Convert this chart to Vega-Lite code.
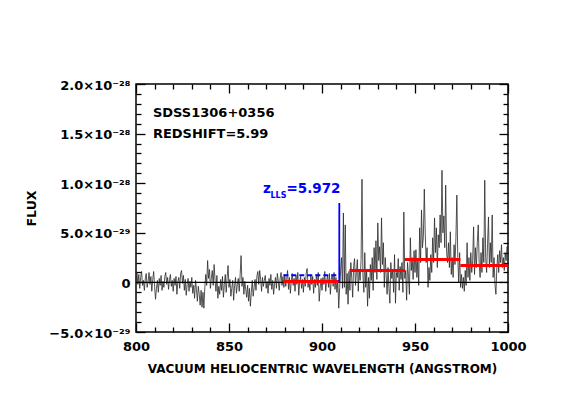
{
  "$schema": "https://vega.github.io/schema/vega-lite/v6.json",
  "width": 372,
  "height": 248,
  "autosize": {"type": "none"},
  "padding": {"left": 136, "top": 84, "right": 56, "bottom": 83},
  "background": "white",
  "config": {
    "view": {"stroke": "black", "strokeWidth": 1.5},
    "font": "DejaVu Sans",
    "axis": {
      "grid": false,
      "domain": false,
      "tickColor": "black",
      "tickWidth": 1.3,
      "labelColor": "black",
      "labelFont": "DejaVu Sans",
      "labelFontWeight": "bold",
      "labelFontSize": 13,
      "labelFlush": false,
      "labelOverlap": false,
      "labelBound": false,
      "titleColor": "black",
      "titleFont": "DejaVu Sans",
      "titleFontWeight": "bold"
    }
  },
  "layer": [
    {
      "data": {"values": [
        {"w":800,"f":0.3},{"w":800.5,"f":1.0},{"w":801,"f":-0.2},{"w":801.5,"f":0.8},{"w":802,"f":-0.6},{"w":802.5,"f":0.5},{"w":803,"f":1.1},{"w":803.5,"f":-0.3},{"w":804,"f":0.2},{"w":804.5,"f":-0.8},
        {"w":805,"f":0.4},{"w":805.5,"f":0.9},{"w":806,"f":-0.5},{"w":806.5,"f":0.1},{"w":807,"f":1.0},{"w":807.5,"f":-0.2},{"w":808,"f":0.6},{"w":808.5,"f":-0.9},{"w":809,"f":0.3},{"w":809.5,"f":1.1},
        {"w":810,"f":-0.4},{"w":810.5,"f":-1.7},{"w":811,"f":-0.6},{"w":811.5,"f":0.2},{"w":812,"f":-1.0},{"w":812.5,"f":0.4},{"w":813,"f":-0.3},{"w":813.5,"f":0.7},{"w":814,"f":-0.8},{"w":814.5,"f":0.1},
        {"w":815,"f":-0.5},{"w":815.5,"f":0.6},{"w":816,"f":1.0},{"w":816.5,"f":-0.2},{"w":817,"f":0.5},{"w":817.5,"f":-0.7},{"w":818,"f":0.3},{"w":818.5,"f":0.8},{"w":819,"f":-0.4},{"w":819.5,"f":0.2},
        {"w":820,"f":-0.9},{"w":820.5,"f":0.4},{"w":821,"f":-0.3},{"w":821.5,"f":0.6},{"w":822,"f":-1.2},{"w":822.5,"f":0.1},{"w":823,"f":0.5},{"w":823.5,"f":-0.6},{"w":824,"f":0.9},{"w":824.5,"f":1.2},
        {"w":825,"f":-0.1},{"w":825.5,"f":0.7},{"w":826,"f":-0.8},{"w":826.5,"f":0.3},{"w":827,"f":-1.3},{"w":827.5,"f":-0.2},{"w":828,"f":0.4},{"w":828.5,"f":-0.9},{"w":829,"f":0.1},{"w":829.5,"f":-0.5},
        {"w":830,"f":0.5},{"w":830.5,"f":-1.1},{"w":831,"f":-0.3},{"w":831.5,"f":-1.6},{"w":832,"f":0.2},{"w":832.5,"f":-0.7},{"w":833,"f":-1.9},{"w":833.5,"f":-0.4},{"w":834,"f":-1.2},{"w":834.5,"f":-2.3},
        {"w":835,"f":-0.8},{"w":835.5,"f":-2.5},{"w":836,"f":-1.0},{"w":836.5,"f":-2.6},{"w":837,"f":-0.5},{"w":837.5,"f":0.8},{"w":838,"f":-0.3},{"w":838.5,"f":2.2},{"w":839,"f":0.4},{"w":839.5,"f":1.3},
        {"w":840,"f":-0.6},{"w":840.5,"f":0.4},{"w":841,"f":1.2},{"w":841.5,"f":-0.3},{"w":842,"f":1.8},{"w":842.5,"f":0.2},{"w":843,"f":-0.9},{"w":843.5,"f":0.7},{"w":844,"f":-1.6},{"w":844.5,"f":-0.4},
        {"w":845,"f":-1.2},{"w":845.5,"f":0.3},{"w":846,"f":-0.8},{"w":846.5,"f":0.6},{"w":847,"f":-1.5},{"w":847.5,"f":-0.2},{"w":848,"f":0.8},{"w":848.5,"f":-1.0},{"w":849,"f":0.5},{"w":849.5,"f":1.7},
        {"w":850,"f":-0.5},{"w":850.5,"f":0.3},{"w":851,"f":-1.4},{"w":851.5,"f":-0.6},{"w":852,"f":0.2},{"w":852.5,"f":-1.8},{"w":853,"f":-0.3},{"w":853.5,"f":0.5},{"w":854,"f":-1.1},{"w":854.5,"f":-0.2},
        {"w":855,"f":0.4},{"w":855.5,"f":-0.9},{"w":856,"f":0.8},{"w":856.5,"f":2.7},{"w":857,"f":-0.4},{"w":857.5,"f":0.5},{"w":858,"f":-1.2},{"w":858.5,"f":0.1},{"w":859,"f":-0.7},{"w":859.5,"f":-1.5},
        {"w":860,"f":-0.3},{"w":860.5,"f":-1.9},{"w":861,"f":-0.6},{"w":861.5,"f":-2.4},{"w":862,"f":-1.0},{"w":862.5,"f":0.2},{"w":863,"f":-1.4},{"w":863.5,"f":-0.5},{"w":864,"f":0.3},{"w":864.5,"f":-0.8},
        {"w":865,"f":0.6},{"w":865.5,"f":1.1},{"w":866,"f":-0.2},{"w":866.5,"f":1.2},{"w":867,"f":0.3},{"w":867.5,"f":-0.9},{"w":868,"f":0.5},{"w":868.5,"f":-0.4},{"w":869,"f":0.2},{"w":869.5,"f":0.7},
        {"w":870,"f":-0.6},{"w":870.5,"f":0.1},{"w":871,"f":-1.1},{"w":871.5,"f":0.4},{"w":872,"f":-0.3},{"w":872.5,"f":0.8},{"w":873,"f":-0.7},{"w":873.5,"f":0.2},{"w":874,"f":-1.2},{"w":874.5,"f":-0.1},
        {"w":875,"f":0.5},{"w":875.5,"f":-0.6},{"w":876,"f":0.9},{"w":876.5,"f":0.1},{"w":877,"f":-0.8},{"w":877.5,"f":0.4},{"w":878,"f":1.0},{"w":878.5,"f":-0.3},{"w":879,"f":0.6},{"w":879.5,"f":-0.5},
        {"w":880,"f":0.8},{"w":880.5,"f":-0.4},{"w":881,"f":0.3},{"w":881.5,"f":1.2},{"w":882,"f":-0.7},{"w":882.5,"f":0.5},{"w":883,"f":-1.1},{"w":883.5,"f":0.2},{"w":884,"f":0.9},{"w":884.5,"f":-0.3},
        {"w":885,"f":0.4},{"w":885.5,"f":-0.9},{"w":886,"f":0.7},{"w":886.5,"f":-0.2},{"w":887,"f":1.0},{"w":887.5,"f":-1.3},{"w":888,"f":0.1},{"w":888.5,"f":0.6},{"w":889,"f":-0.6},{"w":889.5,"f":0.3},
        {"w":890,"f":-1.0},{"w":890.5,"f":0.5},{"w":891,"f":-0.4},{"w":891.5,"f":0.9},{"w":892,"f":1.4},{"w":892.5,"f":-0.5},{"w":893,"f":0.2},{"w":893.5,"f":-0.8},{"w":894,"f":0.7},{"w":894.5,"f":-0.2},
        {"w":895,"f":0.6},{"w":895.5,"f":-1.1},{"w":896,"f":0.3},{"w":896.5,"f":-0.5},{"w":897,"f":0.8},{"w":897.5,"f":-0.3},{"w":898,"f":1.0},{"w":898.5,"f":-1.9},{"w":899,"f":-0.6},{"w":899.5,"f":0.4},
        {"w":900,"f":-0.8},{"w":900.5,"f":0.5},{"w":901,"f":-0.2},{"w":901.5,"f":1.1},{"w":902,"f":-0.9},{"w":902.5,"f":0.2},{"w":903,"f":0.7},{"w":903.5,"f":-0.5},{"w":904,"f":0.9},{"w":904.5,"f":-1.2},
        {"w":905,"f":0.3},{"w":905.5,"f":0.8},{"w":906,"f":-0.4},{"w":906.5,"f":1.0},{"w":907,"f":-0.7},{"w":907.5,"f":0.5},{"w":908,"f":-1.0},{"w":908.5,"f":0.2},{"w":909,"f":-2.6},{"w":909.5,"f":-0.5},
        {"w":910,"f":1.2},{"w":910.5,"f":2.5},{"w":911,"f":-0.6},{"w":911.5,"f":7.0},{"w":912,"f":-0.5},{"w":912.5,"f":5.8},{"w":913,"f":-1.2},{"w":913.5,"f":0.9},{"w":914,"f":-2.2},{"w":914.5,"f":1.1},
        {"w":915,"f":-0.8},{"w":915.5,"f":2.0},{"w":916,"f":0.4},{"w":916.5,"f":-1.5},{"w":917,"f":1.6},{"w":917.5,"f":2.4},{"w":918,"f":-0.3},{"w":918.5,"f":1.0},{"w":919,"f":2.3},{"w":919.5,"f":-0.9},
        {"w":920,"f":1.3},{"w":920.5,"f":0.2},{"w":921,"f":2.2},{"w":921.5,"f":10.4},{"w":922,"f":0.8},{"w":922.5,"f":-1.0},{"w":923,"f":3.0},{"w":923.5,"f":-0.5},{"w":924,"f":1.2},{"w":924.5,"f":-2.4},
        {"w":925,"f":0.5},{"w":925.5,"f":-1.6},{"w":926,"f":1.8},{"w":926.5,"f":0.2},{"w":927,"f":2.5},{"w":927.5,"f":-0.8},{"w":928,"f":3.5},{"w":928.5,"f":1.0},{"w":929,"f":4.2},{"w":929.5,"f":0.3},
        {"w":930,"f":6.0},{"w":930.5,"f":2.2},{"w":931,"f":3.6},{"w":931.5,"f":1.0},{"w":932,"f":6.5},{"w":932.5,"f":1.8},{"w":933,"f":4.0},{"w":933.5,"f":-0.5},{"w":934,"f":2.5},{"w":934.5,"f":0.8},
        {"w":935,"f":-1.2},{"w":935.5,"f":1.5},{"w":936,"f":-0.6},{"w":936.5,"f":-2.1},{"w":937,"f":2.0},{"w":937.5,"f":0.4},{"w":938,"f":1.2},{"w":938.5,"f":-1.0},{"w":939,"f":2.8},{"w":939.5,"f":-2.1},
        {"w":940,"f":1.0},{"w":940.5,"f":0.5},{"w":941,"f":2.4},{"w":941.5,"f":-0.8},{"w":942,"f":1.6},{"w":942.5,"f":0.3},{"w":943,"f":2.0},{"w":943.5,"f":-1.0},{"w":944,"f":7.1},{"w":944.5,"f":0.4},
        {"w":945,"f":1.2},{"w":945.5,"f":-1.8},{"w":946,"f":2.0},{"w":946.5,"f":0.6},{"w":947,"f":-1.2},{"w":947.5,"f":4.5},{"w":948,"f":1.2},{"w":948.5,"f":2.5},{"w":949,"f":0.3},{"w":949.5,"f":3.2},
        {"w":950,"f":1.0},{"w":950.5,"f":3.3},{"w":951,"f":0.5},{"w":951.5,"f":2.2},{"w":952,"f":-0.3},{"w":952.5,"f":5.5},{"w":953,"f":2.0},{"w":953.5,"f":7.3},{"w":954,"f":3.5},{"w":954.5,"f":4.6},
        {"w":955,"f":9.4},{"w":955.5,"f":5.0},{"w":956,"f":2.0},{"w":956.5,"f":3.5},{"w":957,"f":-0.5},{"w":957.5,"f":1.5},{"w":958,"f":0.2},{"w":958.5,"f":2.8},{"w":959,"f":1.0},{"w":959.5,"f":4.5},
        {"w":960,"f":2.0},{"w":960.5,"f":6.5},{"w":961,"f":3.0},{"w":961.5,"f":5.5},{"w":962,"f":1.5},{"w":962.5,"f":4.8},{"w":963,"f":3.5},{"w":963.5,"f":6.8},{"w":964,"f":4.0},{"w":964.5,"f":11.3},
        {"w":965,"f":5.0},{"w":965.5,"f":6.7},{"w":966,"f":3.5},{"w":966.5,"f":9.8},{"w":967,"f":3.0},{"w":967.5,"f":2.0},{"w":968,"f":4.0},{"w":968.5,"f":1.5},{"w":969,"f":5.1},{"w":969.5,"f":0.8},
        {"w":970,"f":2.5},{"w":970.5,"f":0.5},{"w":971,"f":3.8},{"w":971.5,"f":1.8},{"w":972,"f":4.5},{"w":972.5,"f":8.8},{"w":973,"f":2.5},{"w":973.5,"f":0.0},{"w":974,"f":3.0},{"w":974.5,"f":-0.5},
        {"w":975,"f":0.8},{"w":975.5,"f":-0.6},{"w":976,"f":0.5},{"w":976.5,"f":-0.9},{"w":977,"f":1.2},{"w":977.5,"f":-0.3},{"w":978,"f":4.0},{"w":978.5,"f":0.5},{"w":979,"f":2.5},{"w":979.5,"f":0.2},
        {"w":980,"f":3.0},{"w":980.5,"f":1.0},{"w":981,"f":2.2},{"w":981.5,"f":5.6},{"w":982,"f":0.8},{"w":982.5,"f":3.5},{"w":983,"f":1.5},{"w":983.5,"f":4.0},{"w":984,"f":5.8},{"w":984.5,"f":2.0},
        {"w":985,"f":0.5},{"w":985.5,"f":3.0},{"w":986,"f":1.0},{"w":986.5,"f":4.5},{"w":987,"f":2.0},{"w":987.5,"f":10.3},{"w":988,"f":2.5},{"w":988.5,"f":1.0},{"w":989,"f":3.8},{"w":989.5,"f":6.6},
        {"w":990,"f":1.5},{"w":990.5,"f":4.0},{"w":991,"f":2.0},{"w":991.5,"f":6.8},{"w":992,"f":0.5},{"w":992.5,"f":2.5},{"w":993,"f":-0.2},{"w":993.5,"f":-1.2},{"w":994,"f":1.5},{"w":994.5,"f":2.8},
        {"w":995,"f":1.0},{"w":995.5,"f":3.2},{"w":996,"f":2.0},{"w":996.5,"f":3.8},{"w":997,"f":1.5},{"w":997.5,"f":2.5},{"w":998,"f":1.2},{"w":998.5,"f":3.0},{"w":999,"f":2.2},{"w":999.5,"f":3.6},{"w":1000,"f":3.0}
      ]},
      "mark": {"type": "line", "color": "#2a2a2a", "strokeWidth": 0.8, "clip": true},
      "encoding": {
        "x": {
          "field": "w", "type": "quantitative",
          "scale": {"domain": [800, 1000], "nice": false, "zero": false},
          "axis": {
            "orient": "bottom",
            "values": [800, 850, 900, 950, 1000],
            "format": "d",
            "tickSize": -9,
            "labelPadding": 17,
            "title": "VACUUM HELIOCENTRIC WAVELENGTH (ANGSTROM)",
            "titleFontSize": 12,
            "titleBaseline": "alphabetic",
            "titleY": 40
          }
        },
        "y": {
          "field": "f", "type": "quantitative",
          "scale": {"domain": [-5, 20], "nice": false, "zero": false},
          "axis": {
            "orient": "left",
            "values": [-5, 0, 5, 10, 15, 20],
            "labelExpr": "datum.value == 20 ? '2.0×10⁻²⁸' : datum.value == 15 ? '1.5×10⁻²⁸' : datum.value == 10 ? '1.0×10⁻²⁸' : datum.value == 5 ? '5.0×10⁻²⁹' : datum.value == 0 ? '0' : '−5.0×10⁻²⁹'",
            "tickSize": -9,
            "labelPadding": 15,
            "labelBaseline": "middle",
            "labelOffset": 1,
            "title": "FLUX",
            "titleFontSize": 12.5,
            "titleAngle": 270,
            "titleAlign": "center",
            "titleBaseline": "alphabetic",
            "titleX": -101,
            "titleY": 124
          }
        }
      }
    },
    {
      "data": {"values": [{}]},
      "mark": {"type": "rule", "color": "black", "strokeWidth": 1.3},
      "encoding": {"y": {"datum": 0, "type": "quantitative", "axis": null}}
    },
    {
      "data": {"values": [
        {"a": 879.2, "b": 909.1, "v": 0.1},
        {"a": 914.7, "b": 944.6, "v": 1.2},
        {"a": 944.6, "b": 974.4, "v": 2.3},
        {"a": 974.4, "b": 1000, "v": 1.7}
      ]},
      "mark": {"type": "rule", "color": "#ff0000", "strokeWidth": 3, "strokeCap": "butt"},
      "encoding": {
        "x": {
          "field": "a", "type": "quantitative",
          "axis": {"orient": "top", "values": [800, 850, 900, 950, 1000], "labels": false, "title": null, "tickSize": -9}
        },
        "x2": {"field": "b"},
        "y": {
          "field": "v", "type": "quantitative",
          "axis": {"orient": "right", "values": [-5, 0, 5, 10, 15, 20], "labels": false, "title": null, "tickSize": -9}
        }
      }
    },
    {
      "data": {"values": [{"a": 879.2, "b": 909.1, "v": 0.73}]},
      "mark": {"type": "rule", "color": "#0000ff", "strokeWidth": 2, "strokeDash": [5, 3]},
      "encoding": {
        "x": {
          "field": "a", "type": "quantitative",
          "axis": {"orient": "bottom", "values": [810,820,830,840,860,870,880,890,910,920,930,940,960,970,980,990], "labels": false, "title": null, "tickSize": -5}
        },
        "x2": {"field": "b"},
        "y": {
          "field": "v", "type": "quantitative",
          "axis": {"orient": "left", "values": [-4,-3,-2,-1,1,2,3,4,6,7,8,9,11,12,13,14,16,17,18,19], "labels": false, "title": null, "tickSize": -5}
        }
      }
    },
    {
      "data": {"values": [{"w": 909.3, "lo": 0, "hi": 8.0}]},
      "mark": {"type": "rule", "color": "#0000ff", "strokeWidth": 1.8},
      "encoding": {
        "x": {
          "field": "w", "type": "quantitative",
          "axis": {"orient": "top", "values": [810,820,830,840,860,870,880,890,910,920,930,940,960,970,980,990], "labels": false, "title": null, "tickSize": -5}
        },
        "y": {
          "field": "lo", "type": "quantitative",
          "axis": {"orient": "right", "values": [-4,-3,-2,-1,1,2,3,4,6,7,8,9,11,12,13,14,16,17,18,19], "labels": false, "title": null, "tickSize": -5}
        },
        "y2": {"field": "hi"}
      }
    },
    {
      "data": {"values": [
        {"t": "SDSS1306+0356", "x": 809.1, "y": 16.7},
        {"t": "REDSHIFT=5.99", "x": 809.1, "y": 14.53}
      ]},
      "mark": {"type": "text", "align": "left", "baseline": "alphabetic", "font": "DejaVu Sans", "fontWeight": "bold", "fontSize": 13, "color": "black"},
      "encoding": {
        "x": {"field": "x", "type": "quantitative", "axis": null},
        "y": {"field": "y", "type": "quantitative", "axis": null},
        "text": {"field": "t"}
      }
    },
    {
      "data": {"values": [
        {"t": "z", "x": 868.3, "y": 9.02},
        {"t": "=5.972", "x": 880.9, "y": 9.02}
      ]},
      "mark": {"type": "text", "align": "left", "baseline": "alphabetic", "font": "DejaVu Sans", "fontWeight": "bold", "fontSize": 13.5, "color": "#0000ff"},
      "encoding": {
        "x": {"field": "x", "type": "quantitative", "axis": null},
        "y": {"field": "y", "type": "quantitative", "axis": null},
        "text": {"field": "t"}
      }
    },
    {
      "data": {"values": [{"t": "LLS", "x": 872.3, "y": 8.52}]},
      "mark": {"type": "text", "align": "left", "baseline": "alphabetic", "font": "DejaVu Sans", "fontWeight": "bold", "fontSize": 8, "color": "#0000ff"},
      "encoding": {
        "x": {"field": "x", "type": "quantitative", "axis": null},
        "y": {"field": "y", "type": "quantitative", "axis": null},
        "text": {"field": "t"}
      }
    }
  ],
  "resolve": {"axis": {"x": "independent", "y": "independent"}}
}
